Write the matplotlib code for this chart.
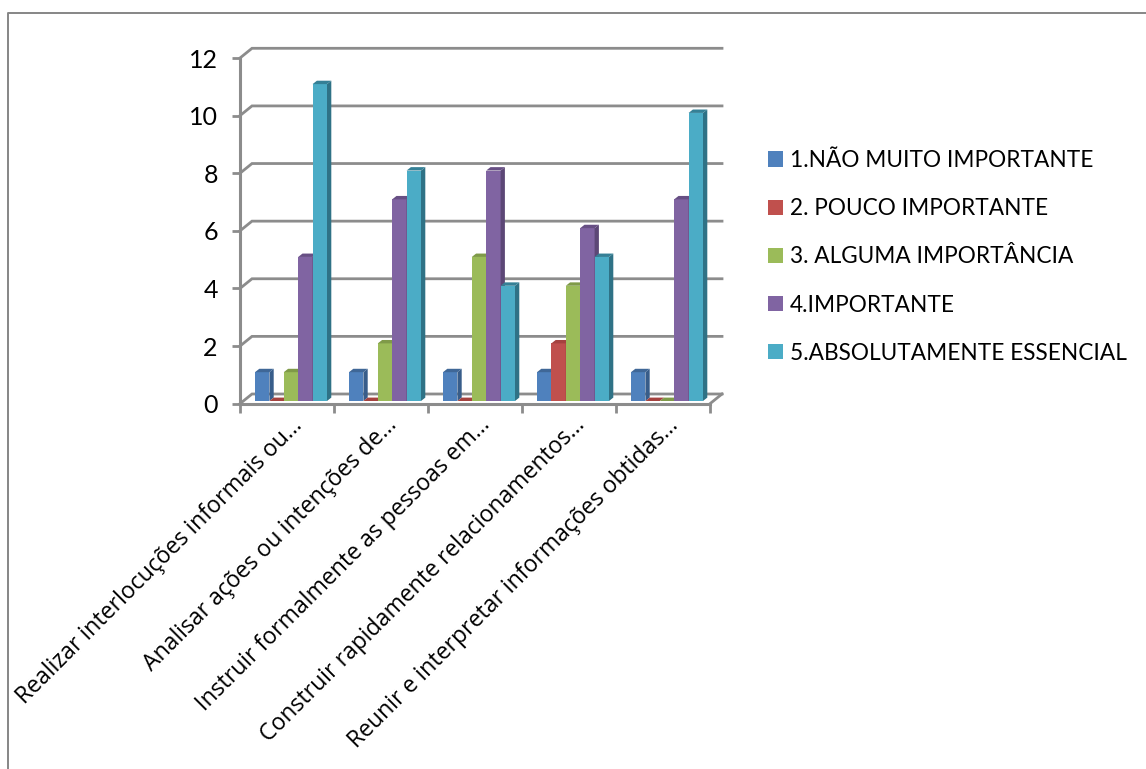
"""
Importance ratings per competence, drawn as pseudo-3D clustered columns
"""

import matplotlib
matplotlib.use("Agg")
import matplotlib.pyplot as plt
import numpy as np
from matplotlib.lines import Line2D
from matplotlib.patches import Polygon

plt.rcParams['font.family'] = ['Lato', 'DejaVu Sans']

categories = [
    'Realizar interlocuções informais ou...',
    'Analisar ações ou intenções de...',
    'Instruir formalmente as pessoas em...',
    'Construir rapidamente relacionamentos...',
    'Reunir e interpretar informações obtidas...',
]
series_names = [
    '1.NÃO MUITO IMPORTANTE',
    '2. POUCO IMPORTANTE',
    '3. ALGUMA IMPORTÂNCIA',
    '4.IMPORTANTE',
    '5.ABSOLUTAMENTE ESSENCIAL',
]
nao_muito = [1, 1, 1, 1, 1]
pouco = [0, 0, 0, 2, 0]
alguma = [1, 2, 5, 4, 0]
importante = [5, 7, 8, 6, 7]
essencial = [11, 8, 4, 5, 10]
y_ticks = [0, 2, 4, 6, 8, 10, 12]

front_colors = ['#4F81BD', '#C0504D', '#9BBB59', '#8064A2', '#4BACC6']
side_colors = ['#385D8A', '#8C3A38', '#728A41', '#5C4776', '#2F7286']
top_colors = ['#3F6797', '#A5423F', '#7F9A48', '#674F84', '#358096']
GREY = '#8C8C8C'

W, H = 1146, 769
fig = plt.figure(figsize=(W / 100, H / 100), dpi=100)

# plot area in pixels: x 240..710, y 58..403.7
ax = fig.add_axes([240 / W, 1 - 403.7 / H, 470 / W, 345.7 / H])
ax.set_xlim(0, 5)
ax.set_ylim(0, 12)
for spine in ax.spines.values():
    spine.set_visible(False)
ax.patch.set_visible(False)

# depth of the wall and of the columns, in data units
wall_dx, wall_dy = 12 / 94, 9.7 / 28.8
bar_dx, bar_dy = 4.3 / 94, 3.4 / 28.8
base = 2.7 / 28.8
bar_w = 14.4 / 94
first_left = 15 / 94

# back wall gridlines and the slanted joins to the front axis
for v in y_ticks:
    ax.plot([0, wall_dx, 5 + wall_dx], [v, v + wall_dy, v + wall_dy],
            color=GREY, lw=2, clip_on=False, zorder=1, solid_joinstyle='miter')
ax.plot([5, 5 + wall_dx], [0, wall_dy], color=GREY, lw=2, clip_on=False, zorder=1)
ax.plot([0, 0], [0, 12], color=GREY, lw=2.2, clip_on=False, zorder=2)
ax.plot([0, 5], [0, 0], color=GREY, lw=2.2, clip_on=False, zorder=2)

# columns: front from ax.bar, side and top faces follow each bar's rectangle
all_series = [nao_muito, pouco, alguma, importante, essencial]
x0 = np.arange(len(categories))
handles = []
for i, values in enumerate(all_series):
    lefts = x0 + first_left + i * bar_w
    bars = ax.bar(lefts, values, bar_w, bottom=base, align='edge', color=front_colors[i],
                  label=series_names[i], clip_on=False, zorder=3 + i)
    handles.append(bars)
    for rect in bars:
        l, b = rect.get_x(), rect.get_y()
        r, t = l + rect.get_width(), b + rect.get_height()
        ax.add_patch(Polygon([(r, b), (r + bar_dx, b + bar_dy), (r + bar_dx, t + bar_dy), (r, t)],
                             color=side_colors[i], lw=0, clip_on=False, zorder=3 + i))
        ax.add_patch(Polygon([(l, t), (l + bar_dx, t + bar_dy), (r + bar_dx, t + bar_dy), (r, t)],
                             color=top_colors[i], lw=0, clip_on=False, zorder=3 + i))

ax.set_yticks(y_ticks)
ax.tick_params(axis='y', length=6, width=2, color=GREY, labelsize=18, pad=10, labelcolor='black')
ax.set_xticks(np.arange(6))
ax.set_xticklabels([])
ax.tick_params(axis='x', which='major', length=6.5, width=2, color=GREY)

# slanted category labels, right end near the column group
for pos, label in zip(x0 + 0.5, categories):
    ax.annotate(label, xy=(pos, 0), xycoords=ax.get_xaxis_transform(), xytext=(12, -18),
                textcoords='offset pixels', rotation=45, ha='right', va='center',
                rotation_mode='anchor', fontsize=16.6, family='Open Sans', color='black',
                annotation_clip=False)

fig.legend(handles=handles, loc='upper left', bbox_to_anchor=(768 / W, 1 - 150 / H),
           bbox_transform=fig.transFigure, frameon=False, fontsize=16.3, handlelength=0.66,
           handleheight=0.66, handletextpad=0.3, labelspacing=1.2, borderpad=0, borderaxespad=0)

# outer chart border, open on the right and at the bottom
fig.add_artist(Line2D([8 / W, 8 / W, 1], [0, 1 - 12.5 / H, 1 - 12.5 / H], color='#868686',
                      lw=1.4, transform=fig.transFigure))

plt.savefig('out.png', dpi=100)
